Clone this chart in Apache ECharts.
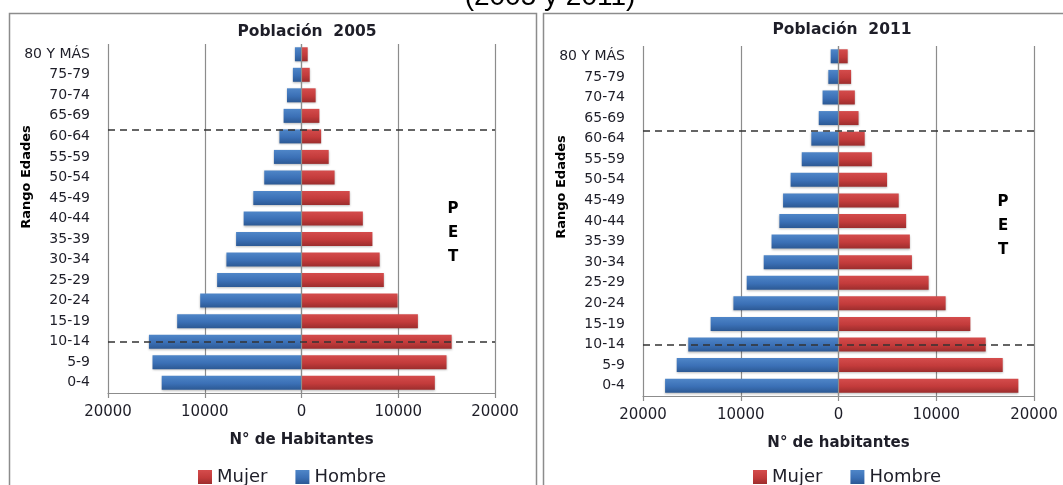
<!DOCTYPE html>
<html><head><meta charset="utf-8">
<script src="https://cdn.jsdelivr.net/npm/echarts@6/dist/echarts.min.js"></script>
<style>html,body{margin:0;padding:0;background:#fff}#c{width:1063px;height:485px}</style>
</head><body><div id="c"></div>
<script>
// Data (bottom to top)
const categories = ['0-4','5-9','10-14','15-19','20-24','25-29','30-34','35-39','40-44','45-49','50-54','55-59','60-64','65-69','70-74','75-79','80 Y MÁS'];
const hombre2005 = [14450,15400,15770,12850,10470,8720,7760,6760,5980,4980,3850,2850,2280,1850,1500,890,680];
const mujer2005  = [13780,14990,15520,12030,9930,8510,8080,7330,6340,4980,3420,2810,2030,1850,1460,850,640];
const hombre2011 = [17740,16550,15370,13080,10750,9390,7650,6850,6050,5670,4900,3760,2780,2020,1630,1040,800];
const mujer2011  = [18400,16800,15060,13490,10960,9220,7510,7300,6920,6160,4970,3410,2680,2050,1670,1290,940];
const xTicks = [-20000,-10000,0,10000,20000];
const titles = ['Población  2005','Población  2011'];
const xNames = ['N° de Habitantes','N° de habitantes'];
// PET limits (position along the age axis, in rows from the bottom)
const petLimits = [[12.82, 2.5],[12.87, 2.5]];

const FONT = 'DejaVu Sans';
const TXT = '#1e1e28';
const blueGrad = new echarts.graphic.LinearGradient(0,0,0,1,[{offset:0,color:'#4f86c8'},{offset:0.55,color:'#3b70b6'},{offset:1,color:'#2c5994'}]);
const redGrad = new echarts.graphic.LinearGradient(0,0,0,1,[{offset:0,color:'#d44c4c'},{offset:0.55,color:'#c33b3b'},{offset:1,color:'#9c2d2d'}]);

const grids = [
  {left:108, right:1063-495, top:44, bottom:485-393},
  {left:643, right:1063-1034, top:46, bottom:485-396}
];

function xAxis(i){
  return {
    type:'value', gridIndex:i, min:xTicks[0], max:xTicks[xTicks.length-1], interval:10000,
    name:xNames[i], nameLocation:'middle', nameGap:40,
    nameTextStyle:{fontFamily:FONT, fontWeight:'bold', fontSize:15, color:TXT},
    axisLine:{show:true, onZero:false, lineStyle:{color:'#8c8c8c', width:1.2}},
    axisTick:{show:true, length:5, lineStyle:{color:'#8c8c8c', width:1.2}},
    axisLabel:{margin:12, fontFamily:FONT, fontSize:15, color:TXT, formatter:v=>String(Math.abs(v))},
    splitLine:{show:true, lineStyle:{color:'#8c8c8c', width:1.2}}
  };
}
function yAxis(i){
  return {
    type:'category', gridIndex:i, data:categories,
    axisLine:{show:false, onZero:false}, axisTick:{show:false},
    axisLabel:{margin:18, fontFamily:FONT, fontSize:14, color:TXT}
  };
}
function yAxisHidden(i){
  return {type:'value', gridIndex:i, min:0, max:categories.length, show:false,
    axisLine:{onZero:false}, splitLine:{show:false}};
}
function seriesFor(i, h, m){
  return [
    {name:'Hombre', type:'bar', xAxisIndex:i, yAxisIndex:i, data:h.map(v=>-v), barWidth:14, barGap:'-100%',
     itemStyle:{color:blueGrad, shadowColor:'rgba(0,0,0,0.25)', shadowBlur:2, shadowOffsetY:1}},
    {name:'Mujer', type:'bar', xAxisIndex:i, yAxisIndex:i, data:m, barWidth:14, barGap:'-100%',
     itemStyle:{color:redGrad, shadowColor:'rgba(0,0,0,0.25)', shadowBlur:2, shadowOffsetY:1},
     markLine:{silent:true, symbol:'none', label:{show:false},
       data:[{xAxis:0, lineStyle:{type:'solid', color:'#8c8c8c', width:1.2}}]}, z:3},
    {type:'line', xAxisIndex:i, yAxisIndex:i+2, data:[], z:5,
     markLine:{silent:true, symbol:'none', label:{show:false},
       lineStyle:{type:[7,5], color:'#333', width:1.5},
       data:petLimits[i].map(v=>({yAxis:v}))}}
  ];
}

const legendBase = {data:['Mujer','Hombre'], top:463, icon:'rect', itemWidth:14, itemHeight:14, itemGap:28,
  textStyle:{fontFamily:FONT, fontSize:18, color:TXT}, selectedMode:false};

const chart = echarts.init(document.getElementById('c'), null, {renderer:'canvas'});
chart.setOption({
  animation:false,
  color:['#3b70b6','#c33b3b'],
  grid:grids,
  xAxis:[xAxis(0), xAxis(1)],
  yAxis:[yAxis(0), yAxis(1), yAxisHidden(0), yAxisHidden(1)],
  legend:[Object.assign({left:193}, legendBase), Object.assign({left:748}, legendBase)],
  series:[...seriesFor(0, hombre2005, mujer2005), ...seriesFor(1, hombre2011, mujer2011)],
  graphic:[
    {type:'rect', shape:{x:9.5, y:13.5, width:527, height:520}, style:{fill:'none', stroke:'#8c8c8c', lineWidth:1.5}, silent:true},
    {type:'rect', shape:{x:543.5, y:13.5, width:540, height:520}, style:{fill:'none', stroke:'#8c8c8c', lineWidth:1.5}, silent:true},
    {type:'text', x:550, y:-3, style:{text:'(2005 y 2011)', font:'28px "Liberation Sans"', fill:'#000', textAlign:'center', textVerticalAlign:'middle'}},
    {type:'text', x:307, y:32, style:{text:titles[0], font:'bold 15.5px "DejaVu Sans"', fill:TXT, textAlign:'center', textVerticalAlign:'middle'}},
    {type:'text', x:842, y:30, style:{text:titles[1], font:'bold 15.5px "DejaVu Sans"', fill:TXT, textAlign:'center', textVerticalAlign:'middle'}},
    {type:'text', x:27, y:177, rotation:Math.PI/2, style:{text:'Rango Edades', font:'bold 13px "DejaVu Sans"', fill:'#000', textAlign:'center', textVerticalAlign:'middle'}},
    {type:'text', x:562, y:187, rotation:Math.PI/2, style:{text:'Rango Edades', font:'bold 13px "DejaVu Sans"', fill:'#000', textAlign:'center', textVerticalAlign:'middle'}},
    {type:'text', x:453, y:233, style:{text:'P\nE\nT', font:'bold 15px "DejaVu Sans"', lineHeight:24, fill:'#000', textAlign:'center', textVerticalAlign:'middle'}},
    {type:'text', x:1003, y:226, style:{text:'P\nE\nT', font:'bold 15px "DejaVu Sans"', lineHeight:24, fill:'#000', textAlign:'center', textVerticalAlign:'middle'}}
  ]
});
</script></body></html>
